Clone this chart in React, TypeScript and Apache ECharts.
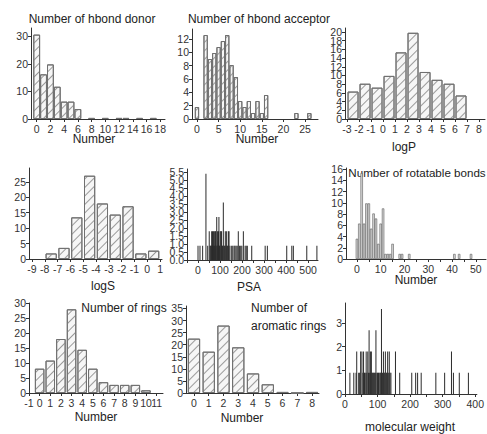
import React, { useEffect, useRef } from "react";
import * as echarts from "echarts";

// ---------- data ----------
const donorX = [0, 1, 2, 3, 4, 5, 6, 8, 10, 12, 13, 15, 17];
const donorY = [30.6, 16.2, 19.8, 11.7, 6.3, 6.3, 3.6, 0.4, 0.4, 0.4, 0.4, 0.4, 0.4];
const donorXTicks = [0, 2, 4, 6, 8, 10, 12, 14, 16, 18];
const donorYTicks = [0, 10, 20, 30];

const acceptorX = [0, 2, 3, 4, 5, 6, 7, 8, 9, 10, 11, 12, 13, 14, 15, 16, 23, 26];
const acceptorY = [1.8, 12.6, 9, 9.9, 10.8, 11.7, 12.6, 8.1, 6.3, 2.7, 1.8, 2.7, 0.9, 2.7, 0.9, 3.6, 0.9, 0.9];
const acceptorXTicks = [0, 5, 10, 15, 20, 25];
const acceptorYTicks = [0, 2, 4, 6, 8, 10, 12];

const logPBinStart = [-3, -2, -1, 0, 1, 2, 3, 4, 5, 6];
const logPCount = [6.3, 8.1, 7.2, 9.9, 15.3, 19.8, 10.8, 9.0, 8.1, 5.4];
const logPXTicks = [-3, -2, -1, 0, 1, 2, 3, 4, 5, 6, 7, 8];
const logPYTicks = [0, 2, 4, 6, 8, 10, 12, 14, 16, 18, 20];

const logSBinStart = [-8, -7, -6, -5, -4, -3, -2, -1, 0];
const logSCount = [1.8, 3.6, 13.5, 27, 18, 14.4, 17.1, 1.8, 2.7];
const logSXTicks = [-9, -8, -7, -6, -5, -4, -3, -2, -1, 0, 1];
const logSYTicks = [0, 5, 10, 15, 20, 25];

const psaX = [0, 9, 21, 36, 44, 51, 55, 58, 60, 62, 64, 66, 68, 70, 72, 74, 76, 78, 80, 82, 85, 87, 89, 91, 93, 95, 97, 99, 101, 104, 107, 110, 112, 115, 118, 121, 124, 127, 130, 133, 136, 138, 141, 145, 153, 158, 164, 168, 173, 178, 183, 188, 194, 199, 206, 214, 219, 224, 244, 305, 315, 403, 426, 433, 494, 540];
const psaY = [0.9, 0.9, 0.9, 5.4, 0.9, 1.8, 0.9, 0.9, 0.9, 1.8, 0.9, 1.8, 0.9, 1.8, 0.9, 1.8, 0.9, 1.8, 1.8, 0.9, 2.7, 0.9, 1.8, 0.9, 1.8, 2.7, 0.9, 0.9, 1.8, 1.8, 1.8, 0.9, 0.9, 3.6, 0.9, 0.9, 1.8, 0.9, 1.8, 0.9, 0.9, 1.8, 1.8, 0.9, 0.9, 0.9, 0.9, 0.9, 0.9, 0.9, 1.8, 0.9, 0.9, 0.9, 1.8, 0.9, 0.9, 0.9, 0.9, 0.9, 0.9, 0.9, 0.9, 0.9, 0.9, 0.9];
const psaXTicks = [0, 100, 200, 300, 400, 500];
const psaXMinorTicks = [-50, 50, 150, 250, 350, 450];
const psaYTicks = [0, 0.5, 1, 1.5, 2, 2.5, 3, 3.5, 4, 4.5, 5, 5.5];

const rotX = [0, 1, 2, 3, 4, 5, 6, 7, 8, 9, 10, 11, 12, 13, 14, 15, 18, 19, 22, 41, 43, 48];
const rotY = [3.6, 6.3, 15.3, 6.3, 9.9, 9.9, 5.4, 8.1, 7.2, 2.7, 6.3, 9.0, 0.9, 0.9, 0.9, 2.7, 0.9, 0.9, 0.9, 0.9, 0.9, 0.9];
const rotXTicks = [0, 10, 20, 30, 40, 50];
const rotXMinorTicks = [5, 15, 25, 35, 45];
const rotYTicks = [0, 2, 4, 6, 8, 10, 12, 14, 16];

const ringsX = [0, 1, 2, 3, 4, 5, 6, 7, 8, 9, 10];
const ringsY = [8.1, 10.8, 18, 27.9, 14.4, 8.1, 3.6, 2.7, 2.7, 2.7, 0.9];
const ringsXTicks = [-1, 0, 1, 2, 3, 4, 5, 6, 7, 8, 9, 10, 11];
const ringsYTicks = [0, 5, 10, 15, 20, 25, 30];

const aromX = [0, 1, 2, 3, 4, 5, 6, 7, 8];
const aromY = [22.5, 17.1, 27.9, 18.9, 8.1, 3.6, 0.45, 0, 0.45];
const aromXTicks = [0, 1, 2, 3, 4, 5, 6, 7, 8];
const aromYTicks = [0, 5, 10, 15, 20, 25, 30, 35];

const mwX = [15, 27, 34, 36, 42, 45, 48, 52, 55, 57, 60, 62, 65, 67, 70, 72, 74, 76, 78, 80, 81, 84, 86, 88, 91, 93, 95, 98, 100, 103, 105, 108, 110, 112, 115, 118, 120, 122, 124, 127, 129, 131, 133, 136, 138, 141, 155, 168, 205, 217, 223, 234, 279, 306, 327, 333, 351, 379];
const mwY = [0.9, 0.9, 0.9, 1.8, 0.9, 0.9, 1.8, 1.8, 0.9, 1.8, 0.9, 0.9, 1.8, 0.9, 1.8, 0.9, 2.7, 0.9, 1.8, 0.9, 1.8, 0.9, 0.9, 0.9, 0.9, 0.9, 2.7, 0.9, 0.9, 0.9, 0.9, 0.9, 0.9, 3.6, 0.9, 1.8, 0.9, 0.9, 1.8, 0.9, 0.9, 1.8, 0.9, 1.8, 0.9, 0.9, 1.8, 0.9, 0.9, 0.9, 0.9, 0.9, 0.9, 0.9, 1.8, 0.9, 0.9, 0.9];
const mwXTicks = [0, 100, 200, 300, 400];
const mwXMinorTicks = [50, 150, 250, 350];
const mwYTicks = [0, 1, 2, 3];

// ---------- styling / layout ----------
const FONT = '"Liberation Sans", Arial, sans-serif';
const INK = "#333";

const hatchStyle = {
  color: "#f6f6f6",
  borderColor: "#707070",
  borderWidth: 1,
  decal: {
    symbol: "rect",
    symbolSize: 1,
    dashArrayX: [1, 0],
    dashArrayY: [0.8, 5],
    rotation: -Math.PI / 4,
    color: "#9a9a9a",
  },
};
const lineBarStyle = { color: "#2b2b2b" };
const rotStyle = { color: "#dadada", borderColor: "#5a5a5a", borderWidth: 0.6 };

type Panel = {
  grid: { left: number; top: number; width: number; height: number };
  xMin: number; xMax: number; xLabels: number[]; xMinor?: number[];
  yMin: number; yMax: number; yLabels: number[]; yFmt?: (v: number) => string;
  data: number[][]; barWidth: number; style: any;
};

const panels: Panel[] = [
  { grid: { left: 31, top: 28, width: 134, height: 91 }, xMin: -0.83, xMax: 18.7, xLabels: donorXTicks,
    yMin: 0, yMax: 33, yLabels: donorYTicks, data: donorX.map((x, i) => [x, donorY[i]]), barWidth: 6.8, style: hatchStyle },
  { grid: { left: 192, top: 29, width: 126, height: 90 }, xMin: -1.15, xMax: 28, xLabels: acceptorXTicks,
    yMin: 0, yMax: 13.5, yLabels: acceptorYTicks, data: acceptorX.map((x, i) => [x, acceptorY[i]]), barWidth: 4.3, style: hatchStyle },
  { grid: { left: 345, top: 28, width: 140, height: 91 }, xMin: -3.17, xMax: 8.5, xLabels: logPXTicks,
    yMin: 0, yMax: 20.9, yLabels: logPYTicks, data: logPBinStart.map((x, i) => [x + 0.5, logPCount[i]]), barWidth: 11, style: hatchStyle },
  { grid: { left: 29, top: 168, width: 133, height: 91 }, xMin: -9.23, xMax: 1.15, xLabels: logSXTicks,
    yMin: 0, yMax: 29.5, yLabels: logSYTicks, data: logSBinStart.map((x, i) => [x + 0.5, logSCount[i]]), barWidth: 11.2, style: hatchStyle },
  { grid: { left: 187, top: 169, width: 131, height: 91 }, xMin: -50, xMax: 545, xLabels: psaXTicks, xMinor: psaXMinorTicks,
    yMin: 0, yMax: 5.7, yLabels: psaYTicks, yFmt: (v) => v.toFixed(1), data: psaX.map((x, i) => [x, psaY[i]]), barWidth: 1, style: lineBarStyle },
  { grid: { left: 346, top: 168, width: 140, height: 91 }, xMin: -4.6, xMax: 54.3, xLabels: rotXTicks, xMinor: rotXMinorTicks,
    yMin: 0, yMax: 16.2, yLabels: rotYTicks, data: rotX.map((x, i) => [x, rotY[i]]), barWidth: 2.4, style: rotStyle },
  { grid: { left: 29, top: 303, width: 134, height: 90 }, xMin: -1, xMax: 11.6, xLabels: ringsXTicks,
    yMin: 0, yMax: 30, yLabels: ringsYTicks, data: ringsX.map((x, i) => [x, ringsY[i]]), barWidth: 9.5, style: hatchStyle },
  { grid: { left: 186, top: 306, width: 133, height: 87 }, xMin: -0.54, xMax: 8.47, xLabels: aromXTicks,
    yMin: 0, yMax: 36, yLabels: aromYTicks, data: aromX.map((x, i) => [x, aromY[i]]), barWidth: 12.3, style: hatchStyle },
  { grid: { left: 345, top: 303, width: 132, height: 91 }, xMin: 0, xMax: 405, xLabels: mwXTicks, xMinor: mwXMinorTicks,
    yMin: 0, yMax: 3.85, yLabels: mwYTicks, data: mwX.map((x, i) => [x, mwY[i]]), barWidth: 1, style: lineBarStyle },
];

const texts: { t: string; x: number; y: number; align?: string; size?: number }[] = [
  { t: "Number of hbond donor", x: 92, y: 19 },
  { t: "Number", x: 94, y: 139 },
  { t: "Number of hbond acceptor", x: 259, y: 19 },
  { t: "Number", x: 257, y: 139 },
  { t: "logP", x: 404, y: 147 },
  { t: "logS", x: 103, y: 286 },
  { t: "PSA", x: 249, y: 287 },
  { t: "Number of rotatable bonds", x: 417, y: 172, size: 11.6 },
  { t: "Number", x: 416, y: 280 },
  { t: "Number of rings", x: 124, y: 308 },
  { t: "Number", x: 96, y: 417 },
  { t: "Number of", x: 251, y: 308, align: "left" },
  { t: "aromatic rings", x: 251, y: 326, align: "left" },
  { t: "Number", x: 242, y: 418 },
  { t: "molecular weight", x: 410, y: 427 },
];

const labelStyle = { fontSize: 10.5, fontFamily: FONT, color: INK };
const evens = (a: number[]) => a.filter((_, i) => i % 2 === 0);
const odds = (a: number[]) => a.filter((_, i) => i % 2 === 1);

export default function App() {
  const ref = useRef<HTMLDivElement>(null);
  useEffect(() => {
    if (!ref.current) return;
    const chart = echarts.init(ref.current, undefined, { renderer: "svg" });
    const xAxis: any[] = [];
    const yAxis: any[] = [];
    panels.forEach((p, i) => {
      // two overlapping axes per direction: alternate labels so none get auto-hidden
      [evens(p.xLabels), odds(p.xLabels)].forEach((labels, k) => {
        xAxis.push({
          type: "value",
          gridIndex: i,
          position: "bottom",
          offset: 0,
          min: p.xMin,
          max: p.xMax,
          splitLine: { show: false },
          axisLine: { show: k === 0, onZero: false, lineStyle: { color: INK, width: 1 } },
          axisTick: { show: k === 0, length: 3, lineStyle: { color: INK }, customValues: [...p.xLabels, ...(p.xMinor || [])] },
          axisLabel: { ...labelStyle, show: labels.length > 0, margin: 4, customValues: labels, showMinLabel: true, showMaxLabel: true },
        });
      });
      [evens(p.yLabels), odds(p.yLabels)].forEach((labels, k) => {
        yAxis.push({
          type: "value",
          gridIndex: i,
          position: "left",
          offset: 0,
          min: p.yMin,
          max: p.yMax,
          splitLine: { show: false },
          axisLine: { show: k === 0, onZero: false, lineStyle: { color: INK, width: 1 } },
          axisTick: { show: k === 0, length: 3, lineStyle: { color: INK }, customValues: p.yLabels },
          axisLabel: {
            ...labelStyle, show: labels.length > 0, margin: 3, customValues: labels, showMinLabel: true, showMaxLabel: true,
            formatter: p.yFmt ? (v: number) => p.yFmt!(v) : undefined,
          },
        });
      });
    });
    const option: any = {
      animation: false,
      backgroundColor: "#fff",
      grid: panels.map((p) => ({ ...p.grid, containLabel: false })),
      xAxis,
      yAxis,
      series: panels.map((p, i) => ({
        type: "bar",
        xAxisIndex: 2 * i,
        yAxisIndex: 2 * i,
        data: p.data,
        barWidth: p.barWidth,
        itemStyle: p.style,
        emphasis: { disabled: true },
      })),
      graphic: texts.map((t) => ({
        type: "text",
        x: t.x,
        y: t.y,
        style: {
          text: t.t,
          fontSize: t.size || 12,
          fontFamily: FONT,
          fill: "#222",
          align: t.align || "center",
          verticalAlign: "middle",
          textAlign: t.align || "center",
          textVerticalAlign: "middle",
        },
      })),
    };
    chart.setOption(option);
    return () => chart.dispose();
  }, []);
  return (
    <div
      ref={ref}
      style={{ position: "absolute", left: 0, top: 0, width: 487, height: 434 }}
    />
  );
}
